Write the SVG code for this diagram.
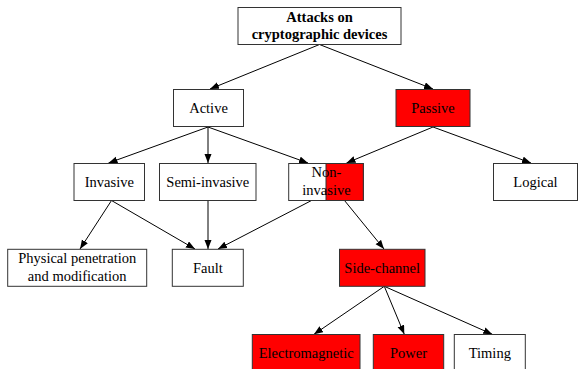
<svg xmlns="http://www.w3.org/2000/svg" width="578" height="369" viewBox="0 0 578 369">
<style>
.box{fill:#fff;stroke:#333;stroke-width:1}
.red{fill:#f00;stroke:#333;stroke-width:1}
.e{stroke:#000;stroke-width:1;fill:none;marker-end:url(#ah)}
</style>
<defs>
<marker id="ah" markerUnits="userSpaceOnUse" markerWidth="10" markerHeight="8" refX="9" refY="3.5" orient="auto">
<path d="M0,0 L9,3.5 L0,7 z" fill="#000"/>
</marker>
</defs>
<g id="edges">
<line class="e" x1="319.5" y1="44.5" x2="210" y2="89"/>
<line class="e" x1="319.5" y1="44.5" x2="433" y2="89"/>
<line class="e" x1="208" y1="127" x2="108.5" y2="163"/>
<line class="e" x1="208" y1="127" x2="208" y2="163"/>
<line class="e" x1="208" y1="127" x2="308" y2="163"/>
<line class="e" x1="433" y1="127" x2="346.5" y2="163"/>
<line class="e" x1="433" y1="127" x2="531" y2="163"/>
<line class="e" x1="111.5" y1="200.5" x2="80" y2="249"/>
<line class="e" x1="111.5" y1="200.5" x2="195" y2="249"/>
<line class="e" x1="208" y1="200.5" x2="208" y2="249"/>
<line class="e" x1="311.5" y1="200.5" x2="218" y2="249"/>
<line class="e" x1="344.5" y1="200.5" x2="384" y2="249"/>
<line class="e" x1="384.3" y1="286.3" x2="314" y2="334.3"/>
<line class="e" x1="384.3" y1="286.3" x2="404.3" y2="334.3"/>
<line class="e" x1="384.3" y1="286.3" x2="492.3" y2="334.3"/>
</g>
<g id="attacks">
<rect class="box" x="238" y="7.5" width="163" height="37"/>
<text font-family="Times New Roman, Liberation Serif, serif" font-size="14.5" font-weight="bold" text-anchor="middle" x="319.5" y="21.5">Attacks on</text>
<text font-family="Times New Roman, Liberation Serif, serif" font-size="14.5" font-weight="bold" text-anchor="middle" x="319.5" y="39.3">cryptographic devices</text>
</g>
<g id="active">
<rect class="box" x="173.5" y="89.5" width="70" height="37"/>
<text font-family="Times New Roman, Liberation Serif, serif" font-size="14.5" text-anchor="middle" x="208.5" y="113">Active</text>
</g>
<g id="passive">
<rect class="red" x="396" y="89.5" width="74" height="37"/>
<text font-family="Times New Roman, Liberation Serif, serif" font-size="14.5" text-anchor="middle" x="433" y="113">Passive</text>
</g>
<g id="invasive">
<rect class="box" x="74" y="163.5" width="70.5" height="37"/>
<text font-family="Times New Roman, Liberation Serif, serif" font-size="14.5" text-anchor="middle" x="109.3" y="187">Invasive</text>
</g>
<g id="semi-invasive">
<rect class="box" x="159.5" y="163.5" width="96.5" height="37"/>
<text font-family="Times New Roman, Liberation Serif, serif" font-size="14.5" text-anchor="middle" x="207.8" y="187">Semi-invasive</text>
</g>
<g id="non-invasive">
<rect class="box" x="288.7" y="163.5" width="74.6" height="37"/>
<rect class="red" x="326" y="163.5" width="37.3" height="37"/>
<text font-family="Times New Roman, Liberation Serif, serif" font-size="14.5" text-anchor="middle" x="326.5" y="177">Non-</text>
<text font-family="Times New Roman, Liberation Serif, serif" font-size="14.5" text-anchor="middle" x="326.5" y="195">invasive</text>
</g>
<g id="logical">
<rect class="box" x="493.5" y="163.5" width="84" height="37"/>
<text font-family="Times New Roman, Liberation Serif, serif" font-size="14.5" text-anchor="middle" x="535.5" y="187">Logical</text>
</g>
<g id="physical">
<rect class="box" x="7.7" y="249.3" width="139" height="37"/>
<text font-family="Times New Roman, Liberation Serif, serif" font-size="14.5" text-anchor="middle" x="77.2" y="263.3">Physical penetration</text>
<text font-family="Times New Roman, Liberation Serif, serif" font-size="14.5" text-anchor="middle" x="77.2" y="280.7">and modification</text>
</g>
<g id="fault">
<rect class="box" x="172.3" y="249.3" width="71" height="37"/>
<text font-family="Times New Roman, Liberation Serif, serif" font-size="14.5" text-anchor="middle" x="207.8" y="272.5">Fault</text>
</g>
<g id="side-channel">
<rect class="red" x="339.5" y="249.3" width="85.5" height="37"/>
<text font-family="Times New Roman, Liberation Serif, serif" font-size="14.5" text-anchor="middle" x="382.2" y="272.5">Side-channel</text>
</g>
<g id="electromagnetic">
<rect class="red" x="252.3" y="334.5" width="107.7" height="37"/>
<text font-family="Times New Roman, Liberation Serif, serif" font-size="14.5" text-anchor="middle" x="306.2" y="358">Electromagnetic</text>
</g>
<g id="power">
<rect class="red" x="373.3" y="334.5" width="70.4" height="37"/>
<text font-family="Times New Roman, Liberation Serif, serif" font-size="14.5" text-anchor="middle" x="408.5" y="358">Power</text>
</g>
<g id="timing">
<rect class="box" x="454.3" y="334.5" width="71" height="37"/>
<text font-family="Times New Roman, Liberation Serif, serif" font-size="14.5" text-anchor="middle" x="489.8" y="358">Timing</text>
</g>
</svg>
